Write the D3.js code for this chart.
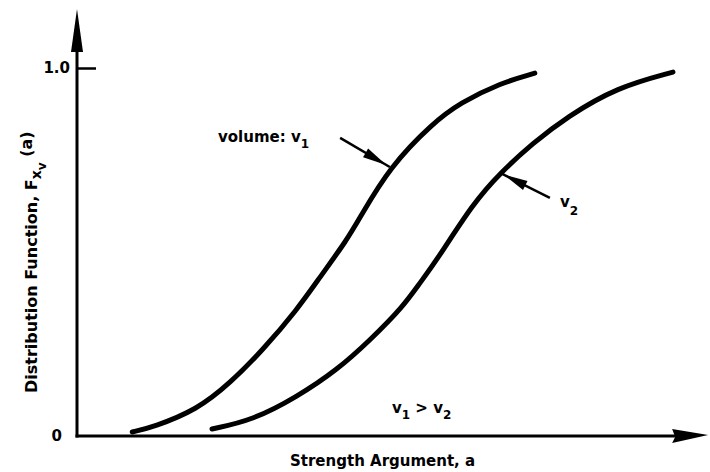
<!DOCTYPE html>
<html>
<head>
<meta charset="utf-8">
<script src="https://cdn.jsdelivr.net/npm/d3@7"></script>
<style>
  html, body { margin: 0; padding: 0; background: #fff; }
  svg { display: block; }
  text { font-family: "DejaVu Sans", sans-serif; font-weight: bold; fill: #000; }
</style>
</head>
<body>
<svg id="chart" width="710" height="472"></svg>
<script>
// Strength argument a and distribution function F for the larger volume v1
const strengthV1 = [0.88, 1.21, 1.91, 2.44, 2.96, 3.50, 3.87, 4.30, 4.51, 4.98, 5.67, 6.10, 6.74, 7.29];
const probV1     = [0.011, 0.024, 0.071, 0.144, 0.234, 0.342, 0.432, 0.533, 0.595, 0.731, 0.851, 0.905, 0.959, 0.986];

// Same for the smaller volume v2
const strengthV2 = [2.15, 2.80, 3.50, 4.14, 4.67, 5.19, 5.46, 5.73, 6.31, 6.74, 7.26, 7.80, 8.60, 9.49];
const probV2     = [0.019, 0.043, 0.106, 0.179, 0.261, 0.351, 0.416, 0.478, 0.633, 0.715, 0.796, 0.867, 0.948, 0.989];

// Y tick values and their labels
const yTickValues = [0, 1];
const yTickLabels = ["0", "1.0"];

// Callout arrows: tail point and the point on the curve they touch
const calloutTails = [[4.19, 0.81], [7.53, 0.647]];
const calloutTips  = [[4.98, 0.731], [6.74, 0.715]];

const svg = d3.select("#chart");

const x = d3.scaleLinear().domain([0, 10]).range([77, 705]);
const y = d3.scaleLinear().domain([0, 1]).range([436, 68]);

const x0 = x(0), y0 = y(0);

// Axis lines with arrowheads
const yTop = y(1.16);
const xEnd = x(10.05);
svg.append("line").attr("x1", x0).attr("y1", y0 + 1.5).attr("x2", x0).attr("y2", yTop + 20)
  .attr("stroke", "#000").attr("stroke-width", 3);
svg.append("path")
  .attr("d", `M${x0},${yTop} L${x0 + 6},${yTop + 43} L${x0 - 6},${yTop + 43} Z`)
  .attr("fill", "#000");

svg.append("line").attr("x1", x0 - 1.5).attr("y1", y0).attr("x2", xEnd - 20).attr("y2", y0)
  .attr("stroke", "#000").attr("stroke-width", 3);
svg.append("path")
  .attr("d", `M${xEnd},${y0 - 1} L${xEnd - 36},${y0 - 7} L${xEnd - 33},${y0 + 1} L${xEnd - 36},${y0 + 7} Z`)
  .attr("fill", "#000");

// Y axis ticks (drawn inward) and labels
const yAxis = d3.axisLeft(y)
  .tickValues(yTickValues)
  .tickFormat((d, i) => yTickLabels[i])
  .tickSizeInner(-19)
  .tickSizeOuter(0)
  .tickPadding(7);
const gy = svg.append("g").attr("transform", `translate(${x0},0)`).call(yAxis);
gy.select(".domain").remove();
gy.selectAll(".tick line")
  .attr("stroke", "#000").attr("stroke-width", 2.5)
  .attr("display", d => d === 0 ? "none" : null);
gy.selectAll(".tick text")
  .attr("font-size", 15).attr("font-weight", "bold").attr("fill", "#000")
  .attr("font-family", "DejaVu Sans, sans-serif")
  .attr("x", d => d === 0 ? -15 : -7);

// Distribution curves, smoothed through the sampled points
const line = d3.line()
  .x(d => x(d[0]))
  .y(d => y(d[1]))
  .curve(d3.curveBasis);

[[strengthV1, probV1], [strengthV2, probV2]].forEach(([a, p]) => {
  svg.append("path")
    .datum(a.map((v, i) => [v, p[i]]))
    .attr("d", line)
    .attr("fill", "none")
    .attr("stroke", "#000")
    .attr("stroke-width", 5)
    .attr("stroke-linecap", "round");
});

// Callout arrows pointing at each curve
calloutTails.forEach((t, i) => {
  const tx = x(t[0]), ty = y(t[1]);
  const px = x(calloutTips[i][0]), py = y(calloutTips[i][1]);
  const dx = px - tx, dy = py - ty, len = Math.hypot(dx, dy);
  const ux = dx / len, uy = dy / len;
  svg.append("line").attr("x1", tx).attr("y1", ty).attr("x2", px).attr("y2", py)
    .attr("stroke", "#000").attr("stroke-width", 2.5);
  const hx = px - ux * 4, hy = py - uy * 4;
  const bx = hx - ux * 24, by = hy - uy * 24;
  svg.append("path")
    .attr("d", `M${hx},${hy} L${bx - uy * 5},${by + ux * 5} L${bx + uy * 5},${by - ux * 5} Z`)
    .attr("fill", "#000");
});

// Curve labels
const lab1 = svg.append("text").attr("x", 218).attr("y", 142).attr("font-size", 15);
lab1.append("tspan").text("volume:  v");
lab1.append("tspan").attr("dy", 6).attr("font-size", 12).text("1");

const lab2 = svg.append("text").attr("x", 560).attr("y", 207).attr("font-size", 15);
lab2.append("tspan").text("v");
lab2.append("tspan").attr("dy", 8).attr("font-size", 12).text("2");

const lab3 = svg.append("text").attr("x", 392).attr("y", 413).attr("font-size", 15);
lab3.append("tspan").text("v");
lab3.append("tspan").attr("dy", 6).attr("font-size", 12).text("1");
lab3.append("tspan").attr("dy", -6).text(" > v");
lab3.append("tspan").attr("dy", 6).attr("font-size", 12).text("2");

// Axis titles
svg.append("text")
  .attr("x", 290).attr("y", 466)
  .attr("font-size", 15)
  .text("Strength Argument, a");

const yt = svg.append("text")
  .attr("transform", "translate(37,393) rotate(-90)")
  .attr("font-size", 16);
yt.append("tspan").text("Distribution Function, F");
yt.append("tspan").attr("dy", 4).attr("font-size", 14).text("x");
yt.append("tspan").attr("dy", 5).attr("font-size", 12).text("v");
yt.append("tspan").attr("dy", -14).text(" (a)");
</script>
</body>
</html>
